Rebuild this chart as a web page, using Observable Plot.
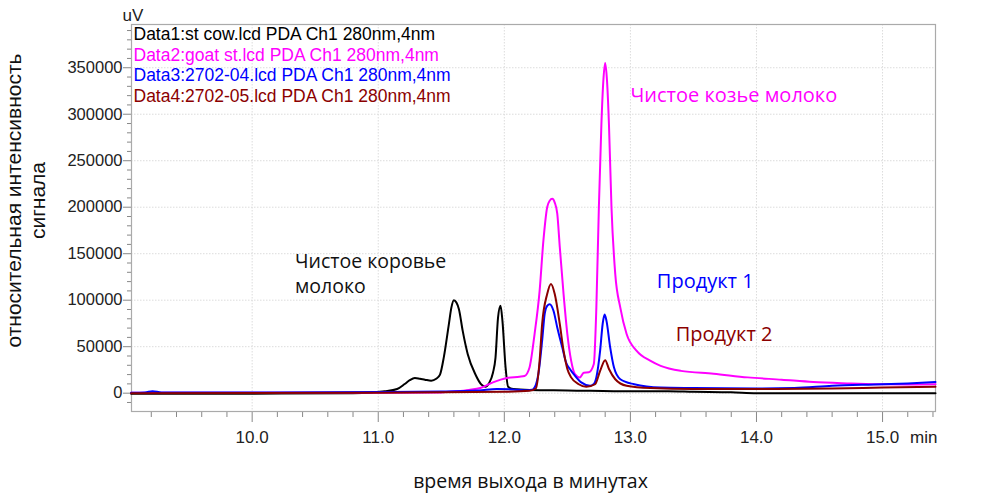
<!DOCTYPE html>
<html><head><meta charset="utf-8">
<script src="https://cdn.jsdelivr.net/npm/d3@7"></script>
<script src="https://cdn.jsdelivr.net/npm/@observablehq/plot@0.6"></script>
<style>body{margin:0;background:#fff}</style>
</head><body><div id="chart"></div>
<script>
// ---- data ----
const legendLabels = [
  "Data1:st cow.lcd PDA Ch1 280nm,4nm",
  "Data2:goat st.lcd PDA Ch1 280nm,4nm",
  "Data3:2702-04.lcd PDA Ch1 280nm,4nm",
  "Data4:2702-05.lcd PDA Ch1 280nm,4nm"
];
const seriesColors = ["#000000", "#ff00ff", "#0000ff", "#8b0000"];

const cowT = [9.04, 10.0, 10.8, 10.95, 11.05, 11.15, 11.21, 11.25, 11.29, 11.33, 11.37, 11.42, 11.46, 11.49, 11.52, 11.56, 11.58, 11.60, 11.62, 11.64, 11.67, 11.71, 11.77, 11.82, 11.85, 11.88, 11.91, 11.93, 11.95, 11.97, 11.985, 12.01, 12.03, 12.07, 12.2, 12.5, 13.0, 13.3, 13.5, 13.8, 14.0, 14.5, 15.0, 15.42];
const cowV = [-500, -500, 0, 800, 2000, 4500, 9900, 14000, 16300, 15500, 14500, 13400, 15500, 20000, 38500, 74000, 92000, 100000, 97500, 90300, 67000, 42000, 20400, 9000, 7000, 11000, 22000, 38000, 81000, 94000, 78000, 27700, 7000, 4500, 3500, 3000, 2000, 2000, 1500, 1000, 0, 0, -200, -200];

const goatT = [9.04, 11.0, 11.5, 11.62, 11.72, 11.81, 11.91, 12.02, 12.12, 12.16, 12.20, 12.24, 12.28, 12.31, 12.34, 12.36, 12.38, 12.40, 12.42, 12.44, 12.47, 12.50, 12.53, 12.56, 12.60, 12.63, 12.67, 12.71, 12.73, 12.75, 12.77, 12.785, 12.80, 12.815, 12.83, 12.85, 12.88, 12.92, 12.97, 13.05, 13.16, 13.24, 13.40, 13.66, 13.93, 14.2, 14.45, 14.75, 15.0, 15.2, 15.42];
const goatV = [500, 500, 800, 2000, 3500, 5600, 11600, 16300, 17700, 18500, 27700, 63600, 110000, 164000, 200000, 207000, 209000, 205000, 193000, 157000, 106600, 63600, 35000, 20600, 17000, 22000, 22400, 31400, 92000, 200000, 289000, 335000, 355000, 335000, 289000, 200000, 128000, 92000, 63600, 45500, 34700, 29400, 24000, 21000, 17000, 14500, 12000, 10500, 9500, 9300, 9500];

const p1T = [9.04, 9.15, 9.21, 9.28, 10.0, 11.0, 11.5, 11.8, 11.94, 12.07, 12.15, 12.22, 12.25, 12.27, 12.30, 12.32, 12.34, 12.36, 12.39, 12.42, 12.46, 12.49, 12.52, 12.56, 12.61, 12.68, 12.71, 12.73, 12.76, 12.78, 12.795, 12.81, 12.84, 12.87, 12.92, 13.03, 13.24, 13.5, 14.0, 14.3, 14.6, 15.0, 15.2, 15.42];
const p1V = [500, 800, 2200, 700, 800, 1200, 1800, 3000, 4500, 4000, 3200, 3800, 9000, 20600, 56400, 85000, 94000, 95700, 88700, 70700, 49000, 33000, 26000, 18800, 11600, 8000, 10000, 17000, 45700, 74400, 84500, 78000, 49000, 27500, 15000, 9600, 6000, 5500, 5000, 5500, 8000, 9500, 10500, 12000];

const p2T = [9.04, 11.0, 12.0, 12.2, 12.25, 12.28, 12.30, 12.34, 12.37, 12.40, 12.44, 12.47, 12.50, 12.53, 12.59, 12.65, 12.72, 12.76, 12.80, 12.83, 12.88, 12.97, 13.16, 13.5, 14.0, 14.6, 15.0, 15.42];
const p2V = [0, 500, 1500, 2500, 5000, 35000, 74400, 106600, 117400, 106600, 74400, 45700, 26000, 17000, 9600, 6800, 9600, 24000, 35500, 26000, 15000, 8000, 5500, 4500, 4500, 5000, 6000, 7000];

const yMajorTicks = [0, 50000, 100000, 150000, 200000, 250000, 300000, 350000];
const xMajorTicks = [10, 11, 12, 13, 14, 15];

// ---- build ----
const seriesT = [cowT, goatT, p1T, p2T];
const seriesV = [cowV, goatV, p1V, p2V];
const series = seriesT.map((T, k) => T.map((t, i) => ({t, v: seriesV[k][i]})));

const yMinor = d3.range(-10000, 396000, 10000).filter(d => d % 50000 !== 0);
const xMinor = d3.range(9.2, 15.41, 0.2).map(d => +d.toFixed(1)).filter(d => Math.abs(d - Math.round(d)) > 1e-6);

const tickFont = "'Liberation Sans', Arial, sans-serif";
const annFont = "'Open Sans', 'Noto Sans', sans-serif";

const chart = Plot.plot({
  width: 984, height: 503,
  marginLeft: 131, marginRight: 49, marginTop: 24, marginBottom: 92,
  style: {background: "#fff", fontFamily: tickFont, fontSize: "17px", overflow: "visible"},
  x: {domain: [9.043, 15.42]},
  y: {domain: [-19700, 396500]},
  marks: [
    Plot.gridY(yMajorTicks, {stroke: "#dcdcdc", strokeOpacity: 1, strokeDasharray: "1.5,1.5"}),
    Plot.gridX(xMajorTicks, {stroke: "#dcdcdc", strokeOpacity: 1, strokeDasharray: "1.5,1.5"}),
    Plot.axisY(yMinor, {tickSize: 4, tickFormat: () => "", stroke: "#888", label: null}),
    Plot.axisY(yMajorTicks, {tickSize: 8, tickPadding: 1, tickFormat: d => String(d), stroke: "#888", fill: "#222", fontSize: 16.5, fontFamily: tickFont, label: null}),
    Plot.axisX(xMinor, {tickSize: 6, tickFormat: () => "", stroke: "#888", label: null}),
    Plot.axisX(xMajorTicks, {tickSize: 11, tickPadding: 8, tickFormat: d => d.toFixed(1), stroke: "#888", fill: "#222", fontSize: 17, fontFamily: tickFont, label: null}),
    Plot.frame({stroke: "#aaa", strokeWidth: 1.2}),
    ...series.map((s, k) => Plot.line(s, {x: "t", y: "v", stroke: seriesColors[k], strokeWidth: 2, curve: "monotone-x"})),
    ...legendLabels.map((lab, k) => Plot.text([lab], {frameAnchor: "top-left", text: d => d, dx: 2, dy: 15.5 + k * 20.5, lineAnchor: "bottom", textAnchor: "start", fill: seriesColors[k], fontSize: 17.5, fontFamily: tickFont})),
    Plot.text(["uV"], {frameAnchor: "top-left", text: d => d, dx: -9, dy: -4, lineAnchor: "bottom", textAnchor: "start", fill: "#222", fontSize: 17, fontFamily: tickFont}),
    Plot.text(["min"], {frameAnchor: "bottom-right", text: d => d, dx: 2, dy: 19, lineAnchor: "top", textAnchor: "end", fill: "#222", fontSize: 17, fontFamily: tickFont}),
    // annotations
    Plot.text([{t: 13.0, v: 312700, s: "Чистое козье молоко", c: seriesColors[1]},
               {t: 13.21, v: 113100, s: "Продукт 1", c: seriesColors[2]},
               {t: 13.36, v: 56500, s: "Продукт 2", c: seriesColors[3]}],
      {x: "t", y: "v", text: "s", fill: d => d.c, textAnchor: "start", lineAnchor: "bottom", fontSize: 20, fontFamily: annFont}),
    Plot.text([{t: 10.34, v: 107700, s: "Чистое коровье\nмолоко"}],
      {x: "t", y: "v", text: "s", fill: "#111", textAnchor: "start", lineAnchor: "bottom", lineHeight: 1.26, fontSize: 19.5, fontFamily: annFont}),
    // axis titles
    Plot.text(["время выхода в минутах"], {frameAnchor: "bottom", text: d => d, dx: -3, dy: 76, lineAnchor: "bottom", fill: "#111", fontSize: 19.5, fontFamily: annFont}),
    Plot.text(["относительная интенсивность\nсигнала"], {frameAnchor: "left", text: d => d, rotate: -90, dx: -106, dy: -17.5, lineAnchor: "middle", textAnchor: "middle", lineHeight: 1.15, fill: "#111", fontSize: 21, fontFamily: tickFont})
  ]
});
document.getElementById("chart").appendChild(chart);
</script>
</body></html>
